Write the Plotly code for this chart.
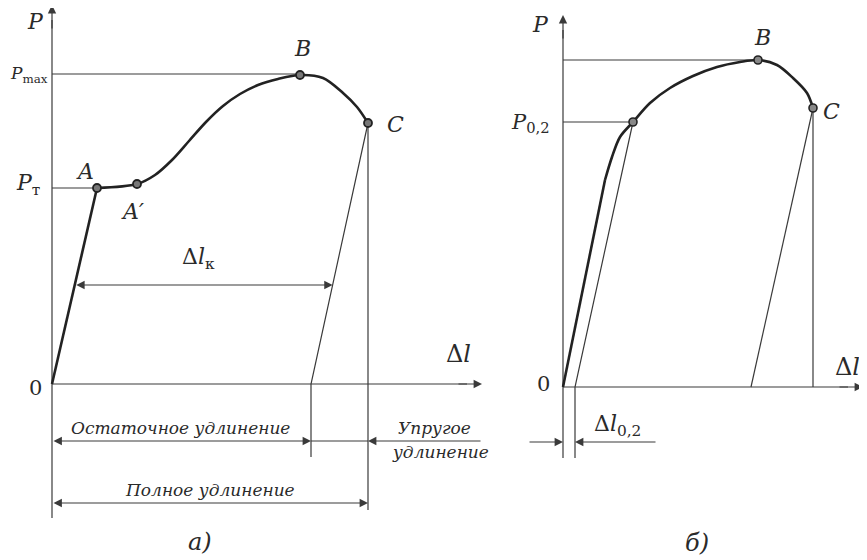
import plotly.graph_objects as go

# ---------------- data: diagram a) (Δl, P), origin at 0 ----------------
curve_a_dl = [0, 45, 85, 103, 120, 137, 154, 171, 188, 206, 226, 248, 271, 291, 305, 316]
curve_a_p = [0, 196, 200, 209, 224, 243, 262, 278, 290, 299, 305, 309, 306, 291, 277, 261]
points_a_idx = [1, 2, 11, 15]
a_residual = 259          # остаточное удлинение
a_axis_p_end = 379
a_axis_dl_end = 430
a_p_max = 310
a_dlk_p = 99

# ---------------- data: diagram б) ----------------
curve_b_dl = [0, 42, 49, 57, 70, 87, 107, 130, 154, 177, 195, 214, 230, 244, 250]
curve_b_p = [0, 207, 230, 250, 265, 284, 299, 311, 320, 325, 327, 322, 309, 294, 279]
points_b_idx = [4, 10, 14]
b_offset = 12             # Δl 0,2
b_residual = 188
b_axis_p_end = 372
b_axis_dl_end = 300

THIN = dict(color="#3a3a3a", width=1.2)
THICK = dict(color="#222222", width=2.6)
FONT = "DejaVu Serif"

fig = go.Figure()

def line(xs, ys, ax, lw=THIN, shape="linear"):
    fig.add_trace(go.Scatter(x=xs, y=ys, mode="lines", line=dict(lw, shape=shape, smoothing=0.9) if shape == "spline" else lw,
                             xaxis=ax[0], yaxis=ax[1], hoverinfo="skip", showlegend=False))

def arrow(x0, y0, x1, y1, ax, both=False):
    fig.add_annotation(x=x1, y=y1, ax=x0, ay=y0, xref=ax[0], yref=ax[1], axref=ax[0], ayref=ax[1],
                       text="", showarrow=True, arrowhead=2, arrowsize=1.4, arrowwidth=1.2,
                       arrowcolor="#3a3a3a", startarrowhead=2, startarrowsize=1.4,
                       arrowside="end+start" if both else "end", standoff=0, startstandoff=0)

def label(x, y, txt, ax, size=22, xanchor="center"):
    fig.add_annotation(x=x, y=y, xref=ax[0], yref=ax[1], text=txt, showarrow=False,
                       font=dict(family=FONT, size=size, color="#2a2a2a"), xanchor=xanchor, borderpad=0)

TA = ("x", "y")
TB = ("x2", "y2")

# ---------- diagram a ----------
line([0, 0], [-134, a_axis_p_end - 15], TA)
line([0, a_axis_dl_end - 15], [0, 0], TA)
arrow(0, a_axis_p_end - 25, 0, a_axis_p_end, TA)
arrow(a_axis_dl_end - 25, 0, a_axis_dl_end, 0, TA)
line([0, curve_a_dl[11]], [a_p_max, a_p_max], TA)
line([0, curve_a_dl[1]], [curve_a_p[1], curve_a_p[1]], TA)
line([curve_a_dl[15], a_residual, a_residual], [curve_a_p[15], 0, -73], TA)
line([curve_a_dl[15], curve_a_dl[15]], [curve_a_p[15], -126], TA)
xl = curve_a_dl[1] * a_dlk_p / curve_a_p[1]
xr = a_residual + (curve_a_dl[15] - a_residual) * a_dlk_p / curve_a_p[15]
arrow(xl, a_dlk_p, xr, a_dlk_p, TA, both=True)
arrow(0, -57, a_residual, -57, TA, both=True)
line([a_residual, curve_a_dl[15]], [-57, -57], TA)
arrow(a_axis_dl_end, -57, curve_a_dl[15], -57, TA)
arrow(0, -119, curve_a_dl[15], -119, TA, both=True)
line(curve_a_dl[:2], curve_a_p[:2], TA, THICK)
line(curve_a_dl[1:], curve_a_p[1:], TA, THICK, "spline")
fig.add_trace(go.Scatter(x=[curve_a_dl[i] for i in points_a_idx], y=[curve_a_p[i] for i in points_a_idx],
                         mode="markers", marker=dict(size=8, color="#777", line=dict(color="#222", width=1.8)),
                         xaxis="x", yaxis="y", hoverinfo="skip", showlegend=False))

label(-17, 363, "<i>P</i>", TA, 22)
label(-3, 310, "<i>P</i><sub>max</sub>", TA, 17, xanchor="right")
label(-24, 200, "<i>P</i><sub>т</sub>", TA, 22)
label(-17, -4, "0", TA, 21)
label(406, 30, "Δ<i>l</i>", TA, 24)
label(33, 213, "<i>A</i>", TA, 22)
label(80, 173, "<i>A′</i>", TA, 22)
label(250, 336, "<i>B</i>", TA, 22)
label(343, 260, "<i>C</i>", TA, 22)
label(146, 126, "Δ<i>l</i><sub>к</sub>", TA, 22)
label(128, -44, "<i>Остаточное удлинение</i>", TA, 17)
label(382, -44, "<i>Упругое</i>", TA, 17)
label(388, -68, "<i>удлинение</i>", TA, 17)
label(158, -106, "<i>Полное удлинение</i>", TA, 17)
label(148, -158, "<i>а)</i>", TA, 24)

# ---------- diagram b ----------
line([0, 0], [-71, b_axis_p_end - 15], TB)
line([0, b_axis_dl_end - 15], [0, 0], TB)
arrow(0, b_axis_p_end - 25, 0, b_axis_p_end, TB)
arrow(b_axis_dl_end - 25, 0, b_axis_dl_end, 0, TB)
line([0, curve_b_dl[10]], [curve_b_p[10], curve_b_p[10]], TB)
line([0, curve_b_dl[4]], [curve_b_p[4], curve_b_p[4]], TB)
line([b_offset, b_offset, curve_b_dl[4]], [-71, 0, curve_b_p[4]], TB)
line([curve_b_dl[14], b_residual], [curve_b_p[14], 0], TB)
line([curve_b_dl[14], curve_b_dl[14]], [curve_b_p[14], 0], TB)
arrow(-35, -55, 0, -55, TB)
arrow(94, -55, b_offset, -55, TB)
line(curve_b_dl[:2], curve_b_p[:2], TB, THICK)
line(curve_b_dl[1:], curve_b_p[1:], TB, THICK, "spline")
fig.add_trace(go.Scatter(x=[curve_b_dl[i] for i in points_b_idx], y=[curve_b_p[i] for i in points_b_idx],
                         mode="markers", marker=dict(size=8, color="#888", line=dict(color="#222", width=1.6)),
                         xaxis="x2", yaxis="y2", hoverinfo="skip", showlegend=False))

label(-23, 363, "<i>P</i>", TB, 22)
label(-33, 264, "<i>P</i><sub>0,2</sub>", TB, 21)
label(-20, 3, "0", TB, 21)
label(284, 20, "Δ<i>l</i>", TB, 24)
label(199, 350, "<i>B</i>", TB, 22)
label(268, 276, "<i>C</i>", TB, 22)
label(54, -38, "Δ<i>l</i><sub>0,2</sub>", TB, 22)
label(134, -156, "<i>б)</i>", TB, 24)

# page body has an 8px margin: figure covers viewport pixels 8..867 x 8..560
W, H, M = 867, 560, 8
split = 500 - M
ax_common = dict(visible=False, showgrid=False, zeroline=False, fixedrange=True)
fig.update_layout(
    width=W - M, height=H - M, margin=dict(l=0, r=0, t=0, b=0),
    paper_bgcolor="white", plot_bgcolor="white", showlegend=False,
    font=dict(family=FONT),
    xaxis=dict(ax_common, domain=[0, split / (W - M)], range=[-52 + M, 448], anchor="y"),
    yaxis=dict(ax_common, domain=[0, 1], range=[-176, 384 - M], anchor="x"),
    xaxis2=dict(ax_common, domain=[split / (W - M), 1], range=[-63, 304], anchor="y2"),
    yaxis2=dict(ax_common, domain=[0, 1], range=[-173, 387 - M], anchor="x2"),
)
fig.write_html("out.html")
